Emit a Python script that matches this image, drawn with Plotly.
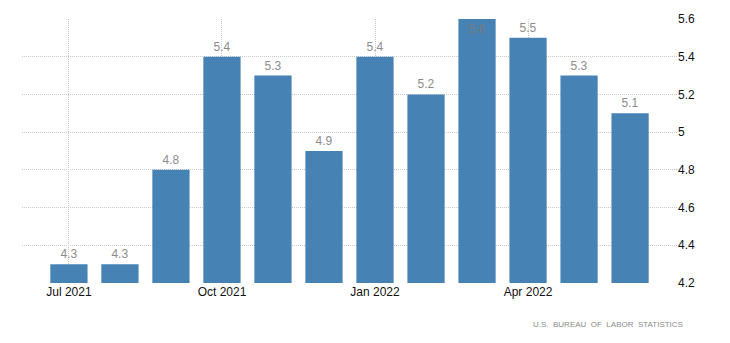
import plotly.graph_objects as go

months = ["Jul 2021", "Aug 2021", "Sep 2021", "Oct 2021", "Nov 2021", "Dec 2021",
          "Jan 2022", "Feb 2022", "Mar 2022", "Apr 2022", "May 2022", "Jun 2022"]
values = [4.3, 4.3, 4.8, 5.4, 5.3, 4.9, 5.4, 5.2, 5.6, 5.5, 5.3, 5.1]
x_ticks = ["Jul 2021", "Oct 2021", "Jan 2022", "Apr 2022"]
y_ticks = [4.2, 4.4, 4.6, 4.8, 5.0, 5.2, 5.4, 5.6]
y_min, y_max = 4.2, 5.6

# labels sit above each bar; a bar reaching the top of the range keeps its label inside
positions = ["inside" if v >= y_max else "outside" for v in values]

label_font = "Liberation Sans, Arial, sans-serif"

fig = go.Figure(go.Bar(
    x=months,
    y=values,
    marker=dict(color="#4682b4", line=dict(width=0)),
    text=[f"{v:g}" for v in values],
    textposition=positions,
    insidetextanchor="end",
    textangle=0,
    constraintext="none",
    cliponaxis=False,
    insidetextfont=dict(family=label_font, size=12, color="#7a7a7a"),
    outsidetextfont=dict(family=label_font, size=12, color="#8c8c8c"),
    hoverinfo="skip",
))

grid = dict(showgrid=True, gridcolor="#c8c8c8", griddash="1px,1px", gridwidth=1,
            zeroline=False, showline=False, ticks="")

fig.update_layout(
    width=730, height=343,
    margin=dict(l=22, r=53, t=19, b=60),
    paper_bgcolor="white",
    plot_bgcolor="white",
    bargap=0.27,
    showlegend=False,
    font=dict(family=label_font, size=12, color="#222"),
    xaxis=dict(
        type="category",
        categoryorder="array",
        categoryarray=months,
        range=[-0.92, len(months) - 1 + 0.92],
        tickmode="array",
        tickvals=x_ticks,
        ticktext=x_ticks,
        tickfont=dict(size=12, color="#111"),
        **grid,
    ),
    yaxis=dict(
        side="right",
        range=[y_min, y_max],
        tickmode="array",
        tickvals=y_ticks,
        ticktext=[f"{v:g}" for v in y_ticks],
        tickfont=dict(size=12, color="#111"),
        **grid,
    ),
)

fig.add_annotation(
    text="U.S.  BUREAU  OF  LABOR  STATISTICS",
    xref="paper", yref="paper",
    x=1.0122, y=-0.159,
    xanchor="right", yanchor="middle",
    showarrow=False,
    font=dict(family=label_font, size=8, color="#8c8c8c"),
)

fig.write_html("out.html")
